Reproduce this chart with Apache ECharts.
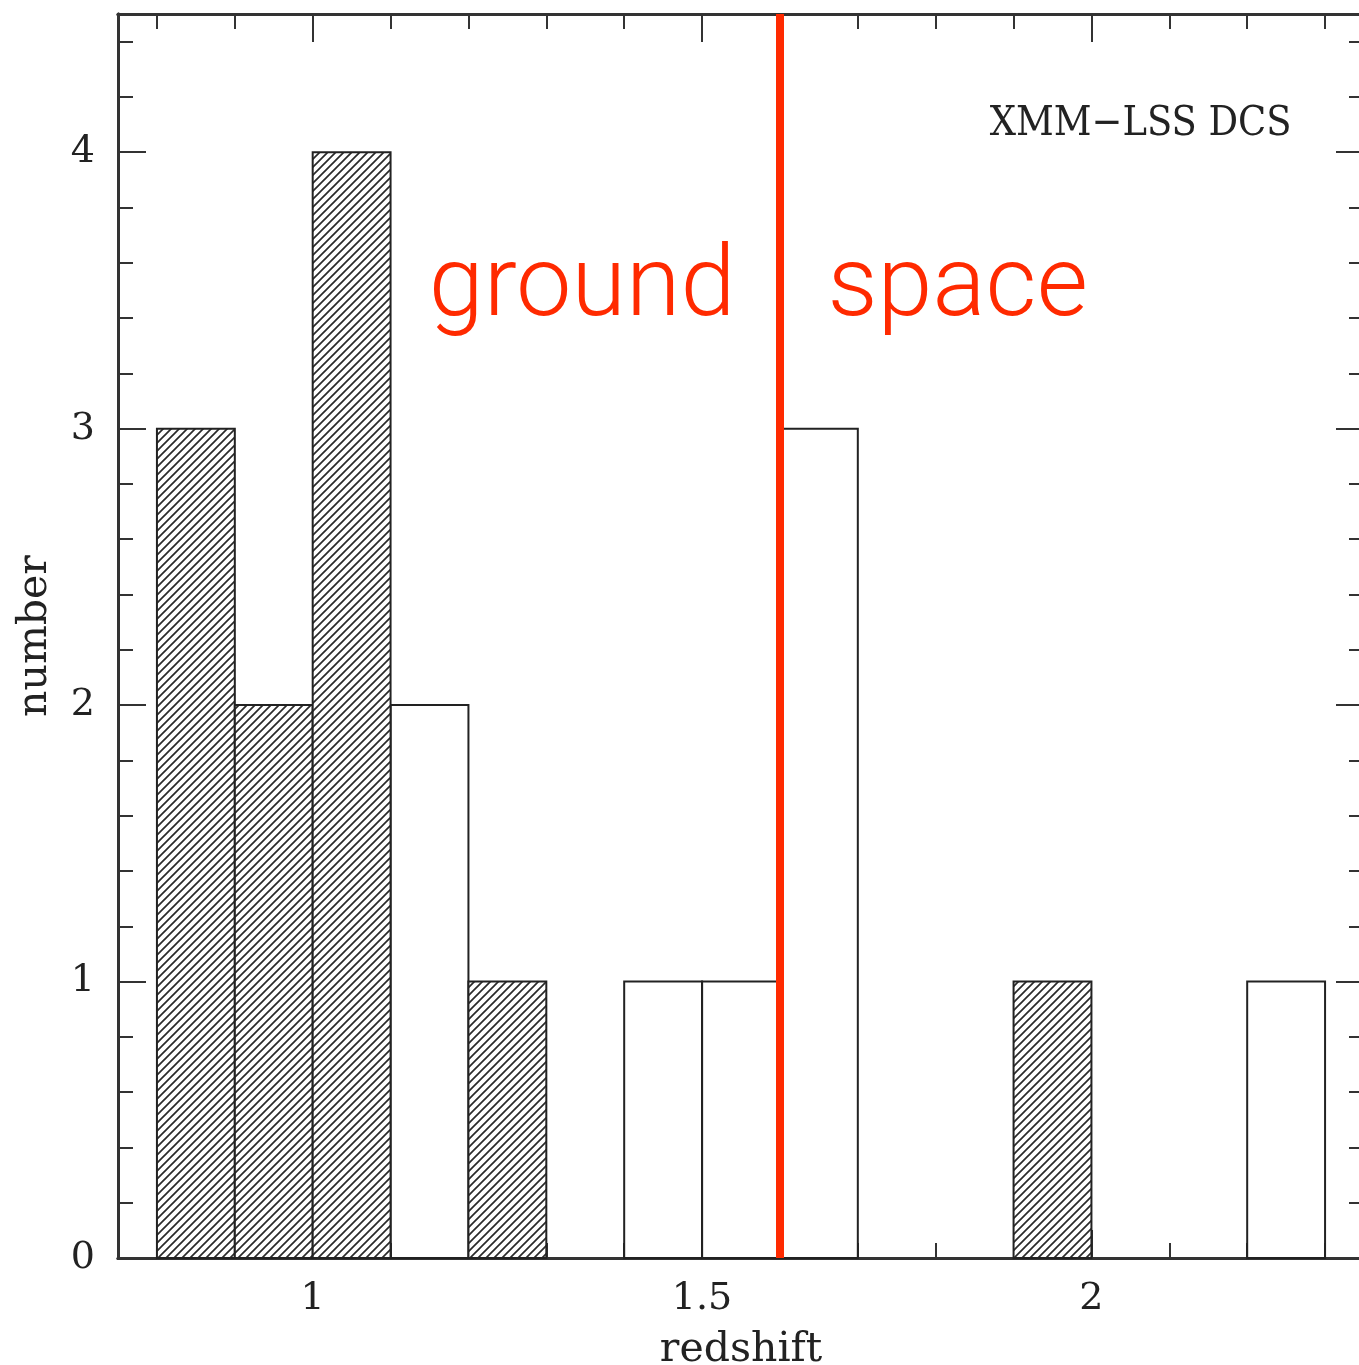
<!DOCTYPE html>
<html>
<head>
<meta charset="utf-8">
<title>XMM-LSS DCS redshift histogram</title>
<script src="https://cdn.jsdelivr.net/npm/echarts@6/dist/echarts.min.js"></script>
<style>
  html, body { margin: 0; padding: 0; background: #ffffff; }
  #chart { width: 1359px; height: 1365px; }
</style>
</head>
<body>
<div id="chart"></div>
<script>
// Histogram bins (left edge of each 0.1-wide redshift bin) and counts
const binWidth = 0.1;
const hatchedLeft = [0.8, 0.9, 1.0, 1.2, 1.9];
const hatchedCounts = [3, 2, 4, 1, 1];
const openLeft = [1.1, 1.4, 1.5, 1.6, 2.2];
const openCounts = [2, 1, 1, 3, 1];

// Ground / space divide
const divideRedshift = 1.597;

// Axis ticks and labels
const xMajorTicks = [1, 1.5, 2];
const xMinorTicks = [0.8, 0.9, 1.1, 1.2, 1.3, 1.4, 1.6, 1.7, 1.8, 1.9, 2.1, 2.2, 2.3];
const yMajorTicks = [0, 1, 2, 3, 4];
const yMinorTicks = [0.2, 0.4, 0.6, 0.8, 1.2, 1.4, 1.6, 1.8, 2.2, 2.4, 2.6, 2.8,
                     3.2, 3.4, 3.6, 3.8, 4.2, 4.4];

// Text annotations: [x, y, text]
const annotations = [
  { x: 1.149, y: 3.68, text: 'ground', kind: 'big' },
  { x: 1.661, y: 3.68, text: 'space', kind: 'big' },
  { x: 2.257, y: 4.10, text: 'XMM\u2212LSS DCS', kind: 'tag' }
];

const ink = '#222222';
const frame = '#333333';
const red = '#ff2a00';

// Diagonal hatch tile
function hatchTile() {
  const s = 8;
  const c = document.createElement('canvas');
  c.width = s; c.height = s;
  const g = c.getContext('2d');
  g.fillStyle = '#ffffff';
  g.fillRect(0, 0, s, s);
  g.strokeStyle = '#2a2a2a';
  g.lineWidth = 1.7;
  g.beginPath();
  g.moveTo(-2, s + 2); g.lineTo(s + 2, -2);
  g.moveTo(-2, 2); g.lineTo(2, -2);
  g.moveTo(s - 2, s + 2); g.lineTo(s + 2, s - 2);
  g.stroke();
  return c;
}
const hatchPattern = { image: hatchTile(), repeat: 'repeat' };

const chart = echarts.init(document.getElementById('chart'), null, { renderer: 'canvas' });

const serif = 'DejaVu Serif';

function xAxisDef(pos, values, len, labels, extra) {
  return Object.assign({
    type: 'value', position: pos, min: 0.75, max: 2.35,
    axisLine: { show: true, onZero: false, lineStyle: { color: frame, width: 3 } },
    axisTick: { show: true, inside: true, length: len, customValues: values,
                lineStyle: { color: frame, width: 2 } },
    axisLabel: labels
      ? { show: true, customValues: values, margin: 22, fontFamily: serif, fontSize: 38, color: ink }
      : { show: false },
    splitLine: { show: false }
  }, extra || {});
}
function yAxisDef(pos, values, len, labels, extra) {
  return Object.assign({
    type: 'value', position: pos, min: 0, max: 4.5,
    axisLine: { show: true, onZero: false, lineStyle: { color: frame, width: 3 } },
    axisTick: { show: true, inside: true, length: len, customValues: values,
                lineStyle: { color: frame, width: 2 } },
    axisLabel: labels
      ? { show: true, customValues: values, margin: 23, fontFamily: serif, fontSize: 38, color: ink }
      : { show: false },
    splitLine: { show: false }
  }, extra || {});
}

function barRenderer(filled) {
  return function (params, api) {
    const x0 = api.value(0);
    const n = api.value(1);
    const p0 = api.coord([x0, 0]);
    const p1 = api.coord([x0 + binWidth, n]);
    return {
      type: 'rect',
      shape: { x: p0[0], y: p1[1], width: p1[0] - p0[0], height: p0[1] - p1[1] },
      style: { fill: filled ? hatchPattern : 'none', stroke: ink, lineWidth: 2 }
    };
  };
}

const option = {
  animation: false,
  backgroundColor: '#ffffff',
  grid: { left: 118, top: 14, width: 1246, height: 1244, containLabel: false, outerBoundsMode: 'none' },
  xAxis: [
    xAxisDef('bottom', xMajorTicks, 28, true, {
      name: 'redshift', nameLocation: 'middle', nameGap: 72,
      nameTextStyle: { fontFamily: serif, fontSize: 41, color: ink }
    }),
    xAxisDef('bottom', xMinorTicks, 15, false),
    xAxisDef('top', xMajorTicks, 28, false),
    xAxisDef('top', xMinorTicks, 15, false)
  ],
  yAxis: [
    yAxisDef('left', yMajorTicks, 28, true, {
      name: 'number', nameLocation: 'middle', nameGap: 62,
      nameTextStyle: { fontFamily: serif, fontSize: 41, color: ink }
    }),
    yAxisDef('left', yMinorTicks, 15, false),
    yAxisDef('right', yMajorTicks, 28, false),
    yAxisDef('right', yMinorTicks, 15, false)
  ],
  series: [
    {
      type: 'custom', name: 'open', xAxisIndex: 0, yAxisIndex: 0,
      renderItem: barRenderer(false),
      data: openLeft.map((x, i) => [x, openCounts[i]]),
      z: 2
    },
    {
      type: 'custom', name: 'hatched', xAxisIndex: 0, yAxisIndex: 0,
      renderItem: barRenderer(true),
      data: hatchedLeft.map((x, i) => [x, hatchedCounts[i]]),
      z: 3,
      markLine: {
        silent: true, symbol: ['none', 'none'],
        label: { show: false },
        lineStyle: { color: red, width: 8, type: 'solid' },
        data: [{ xAxis: divideRedshift }],
        z: 5
      }
    },
    {
      type: 'custom', name: 'notes', xAxisIndex: 0, yAxisIndex: 0,
      renderItem: function (params, api) {
        const a = annotations[params.dataIndex];
        const p = api.coord([a.x, a.y]);
        if (a.kind === 'big') {
          return {
            type: 'text', x: p[0], y: p[1],
            style: { text: a.text, fill: red, font: '300 99px Roboto, "Liberation Sans", sans-serif',
                     align: 'left', verticalAlign: 'top' }
          };
        }
        return {
          type: 'text', x: p[0], y: p[1],
          style: { text: a.text, fill: ink, font: '41px "DejaVu Serif Condensed", "DejaVu Serif", serif',
                   align: 'right', verticalAlign: 'middle' }
        };
      },
      data: annotations.map(a => [a.x, a.y]),
      z: 6
    }
  ]
};

chart.setOption(option);
</script>
</body>
</html>
